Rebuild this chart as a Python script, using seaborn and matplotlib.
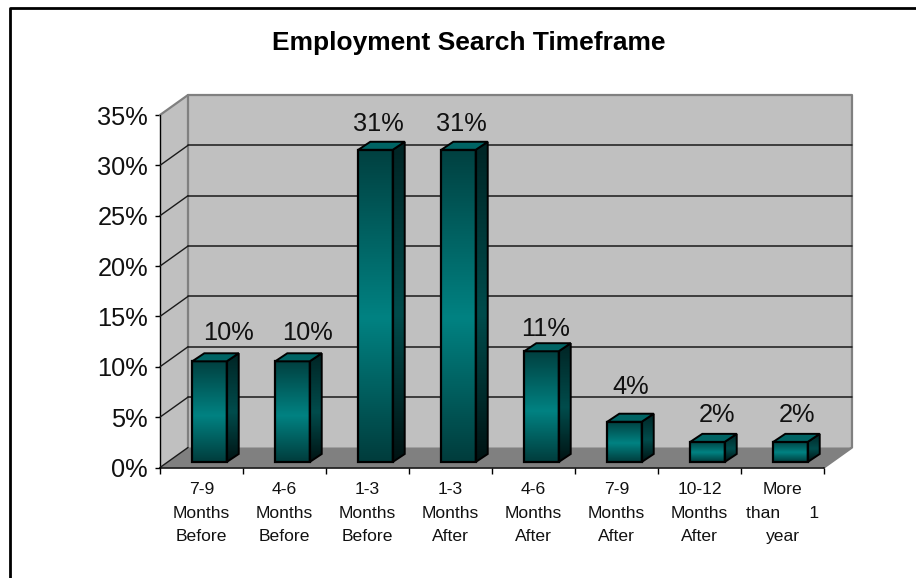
import numpy as np
import matplotlib
matplotlib.use("Agg")
import matplotlib.pyplot as plt
from matplotlib.colors import to_rgb
from matplotlib.patches import Polygon
from matplotlib.ticker import FixedLocator, PercentFormatter
from matplotlib.transforms import Affine2D, IdentityTransform
import seaborn as sns

categories = ["7-9\nMonths\nBefore", "4-6\nMonths\nBefore", "1-3\nMonths\nBefore", "1-3\nMonths\nAfter",
              "4-6\nMonths\nAfter", "7-9\nMonths\nAfter", "10-12\nMonths\nAfter", "More\nthan      1\nyear"]
values = [10, 10, 31, 31, 11, 4, 2, 2]
y_ticks = [0, 5, 10, 15, 20, 25, 30, 35]

W, H = 916, 578
WALL = "#c0c0c0"
FLOOR = "#808080"

# the value labels are not placed evenly in the original: shift from bar centre, gap over bar top (pixels)
label_dx = [19, 15, 3, 3, 4, 6, 10, 6]
label_gap = [13, 13, 11, 11, 7, 20, 12, 12]

sns.set_theme(style="white")
plt.rcParams["font.family"] = ["Liberation Sans", "DejaVu Sans"]

fig = plt.figure(figsize=(W / 100, H / 100), dpi=100, facecolor="white")

# front plane of the fake 3d box, in pixels from the top left corner
left, right, bottom, top = 160, 824, 467.5, 115
ax = fig.add_axes([left / W, 1 - bottom / H, (right - left) / W, (bottom - top) / H])
ax.patch.set_visible(False)

sns.barplot(x=categories, y=values, width=0.415, color="#008080", ax=ax, zorder=5)
ax.set_xlim(-0.5, 7.5)
ax.set_ylim(0, 35)

identity = IdentityTransform()
back = ax.transData + Affine2D().translate(28, 20)
bar_shift = Affine2D().translate(8, 5.5)


def gradient(ends, mid, mid_at=0.54):
    t = np.linspace(0, 1, 256)
    rgb = [np.interp(t, [0, mid_at, 1], [a, b, c])
           for a, b, c in zip(to_rgb(ends[0]), to_rgb(mid), to_rgb(ends[1]))]
    return np.array(rgb).T[:, None, :]


def to_disp(x, y):
    return ax.transData.transform((x, y))


# walls and floor
x0, y0 = to_disp(-0.5, 0)
x1, y1 = to_disp(7.5, 35)
d = (28, 20)
ax.add_patch(Polygon([(x0, y0), (x0 + d[0], y0 + d[1]), (x0 + d[0], y1 + d[1]), (x0, y1)], closed=True,
                     facecolor=WALL, edgecolor="none", transform=identity, zorder=0, clip_on=False))
ax.add_patch(Polygon([(x0 + d[0], y0 + d[1]), (x1 + d[0], y0 + d[1]), (x1 + d[0], y1 + d[1]), (x0 + d[0], y1 + d[1])],
                     closed=True, facecolor=WALL, edgecolor="none", transform=identity, zorder=0, clip_on=False))
ax.add_patch(Polygon([(x0, y0), (x1, y0), (x1 + d[0], y0 + d[1]), (x0 + d[0], y0 + d[1])], closed=True,
                     facecolor=FLOOR, edgecolor="none", transform=identity, zorder=1, clip_on=False))
ax.plot([x0, x0 + d[0], x1 + d[0], x1 + d[0], x1], [y1, y1 + d[1], y1 + d[1], y0 + d[1], y0],
        color=FLOOR, lw=1.6, transform=identity, zorder=1, clip_on=False)
ax.plot([x0 + d[0], x0 + d[0]], [y0 + d[1], y1 + d[1]], color=FLOOR, lw=1.6, transform=identity, zorder=1, clip_on=False)
ax.plot([x0, x0], [y0, y1], color="black", lw=1, transform=identity, zorder=2, clip_on=False)

# gridlines on the wall
for v in y_ticks[1:-1]:
    ax.plot([-0.5, 7.5], [v, v], color="#1a1a1a", lw=1.1, transform=back, zorder=2, clip_on=False)
for v in y_ticks[:-1]:
    px, py = to_disp(-0.5, v)
    ax.plot([px, px + d[0]], [py, py + d[1]], color="#1a1a1a", lw=1, transform=identity, zorder=2, clip_on=False)

# bars get a shaded front, a side and a top
dep_x, dep_y = 12, 8
for bar, val, dx, gap in zip(ax.patches, values, label_dx, label_gap):
    bx, bw, bh = bar.get_x(), bar.get_width(), bar.get_height()
    bar.set_transform(ax.transData + bar_shift)
    bar.set_facecolor("none")
    bar.set_edgecolor("black")
    bar.set_linewidth(1.6)
    bar.set_zorder(6)
    xa, ya = bar_shift.transform(to_disp(bx, 0))
    xb, yb = bar_shift.transform(to_disp(bx + bw, bh))

    front = ax.imshow(gradient(("#004040", "#003c3c"), "#008282"), extent=(xa, xb, ya, yb), aspect="auto",
                      transform=identity, zorder=4, interpolation="bilinear")
    side_pts = [(xb, ya), (xb + dep_x, ya + dep_y), (xb + dep_x, yb + dep_y), (xb, yb)]
    side = Polygon(side_pts, closed=True, facecolor="none", edgecolor="black", lw=1.4,
                   transform=identity, zorder=6, clip_on=False)
    ax.add_patch(side)
    side_img = ax.imshow(gradient(("#002424", "#001212"), "#004c4c"), extent=(xb, xb + dep_x, ya, yb + dep_y),
                         aspect="auto", transform=identity, zorder=4, interpolation="bilinear")
    side_img.set_clip_path(side)
    ax.add_patch(Polygon([(xa, yb), (xb, yb), (xb + dep_x, yb + dep_y), (xa + dep_x, yb + dep_y)], closed=True,
                         facecolor="#006464", edgecolor="black", lw=1.4, transform=identity, zorder=6, clip_on=False))
    ax.text((xa + xb) / 2 + dx, yb + dep_y + gap, f"{val}%", transform=identity, ha="center", va="baseline",
            fontsize=18.3, color="#111111", zorder=7)

ax.set_xlim(-0.5, 7.5)
ax.set_ylim(0, 35)

sns.despine(ax=ax, top=True, right=True)
ax.spines["left"].set_visible(False)
ax.spines["bottom"].set_color("black")
ax.spines["bottom"].set_linewidth(1.1)
ax.spines["bottom"].set_zorder(3)

ax.yaxis.set_major_locator(FixedLocator(y_ticks))
ax.yaxis.set_major_formatter(PercentFormatter(decimals=0))
ax.tick_params(axis="y", left=True, length=3.6, width=1, color="black", labelsize=18.3, pad=5, labelcolor="#111111")
ax.set_xticks(range(len(categories)), categories)
ax.tick_params(axis="x", which="major", bottom=False, labelsize=12.6, pad=4.5, labelcolor="#111111")
for lab in ax.get_xticklabels():
    lab.set_linespacing(1.71)
ax.xaxis.set_minor_locator(FixedLocator(np.arange(-0.5, 8)))
ax.tick_params(axis="x", which="minor", bottom=True, length=4.5, width=1, color="black")
ax.set_xlabel("")
ax.set_ylabel("")

# chart frame only shows on the top and left
fig.add_artist(plt.Line2D([10 / W, 10 / W, 1], [0, 1 - 8 / H, 1 - 8 / H], color="black", lw=2, transform=fig.transFigure))

fig.text(469 / W, 1 - 43 / H, "Employment Search Timeframe", ha="center", va="center",
         fontsize=19, fontweight="bold", color="black")

fig.savefig("out.png", dpi=100)
